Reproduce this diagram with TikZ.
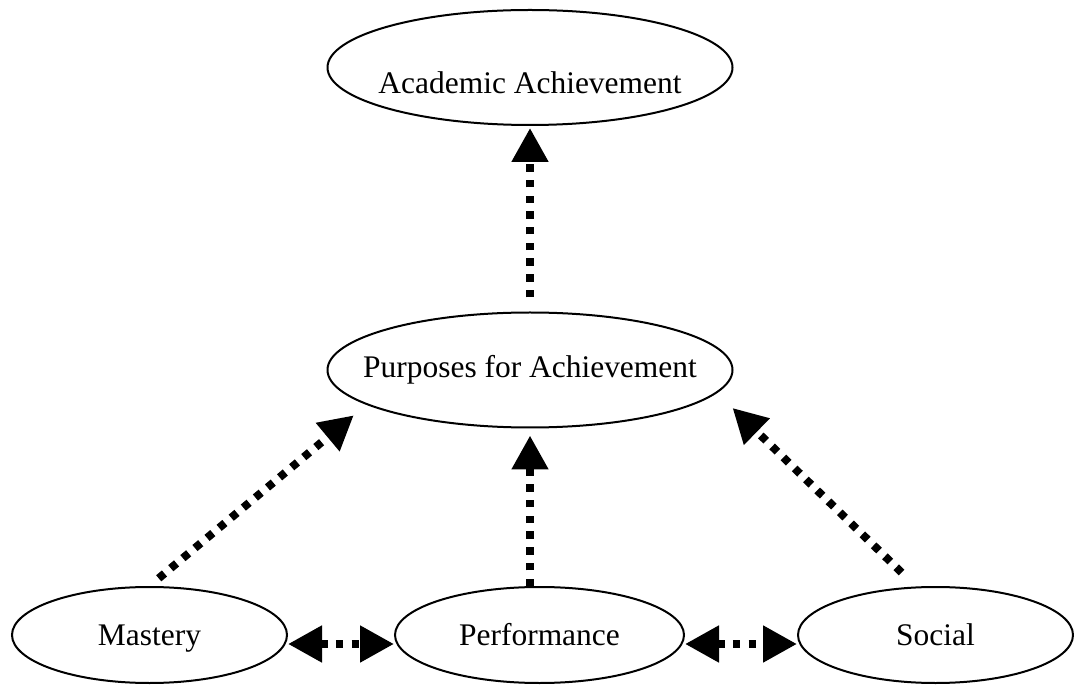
\documentclass[tikz,border=0pt]{standalone}
\usepackage{fontspec}
\setmainfont{Liberation Serif}
\usetikzlibrary{arrows.meta,shapes.geometric}
\begin{document}
\begin{tikzpicture}[
                    goal/.style={draw, ellipse, line width=0.04cm, inner sep=0pt,
                        font=\fontsize{17.9}{21}\selectfont},
                    wide/.style={goal, inner xsep=-0.6cm, minimum width=8.1cm, minimum height=2.3cm},
                    small/.style={goal, minimum height=1.92cm, text height=12.3pt, text depth=0pt},
                    link/.style={line width=0.16cm, dash pattern=on 0.15cm off 0.165cm,
                        -{Triangle[length=0.68cm, width=0.7cm]}},
                    both/.style={link, {Triangle[length=0.68cm, width=0.7cm]}-{Triangle[length=0.68cm, width=0.7cm]}}
                ]
                    \useasboundingbox (0,0) rectangle (21.48,13.68);

                    \node[wide, text height=29.9pt, text depth=0pt] (academic) at (10.6,12.33) {Academic Achievement};
                    \node[wide] (purposes) at (10.6,6.28) {Purposes for Achievement};
                    \node[small, minimum width=5.5cm] (mastery) at (2.99,0.98) {Mastery};
                    \node[small, minimum width=5.78cm] (performance) at (10.79,0.98) {Performance};
                    \node[small, minimum width=5.5cm] (social) at (18.71,0.98) {Social};

                    \draw[link, shorten <=0.28cm, shorten >=0.04cm] (purposes.north) -- (academic.south);
                    \draw[link, shorten >=0.14cm] (purposes.south |- performance.north) -- (purposes.south);
                    \draw[link, shorten <=0.24cm, shorten >=0.33cm] (mastery.north) -- (purposes.192);
                    \draw[link, shorten <=0.4cm, shorten >=0.43cm] (social.112) -- (purposes.353);

                    \draw[both] ([yshift=-0.18cm]mastery.east) -- ([yshift=-0.18cm]performance.west);
                    \draw[both] ([yshift=-0.18cm]performance.east) -- ([yshift=-0.18cm]social.west);
                \end{tikzpicture}
\end{document}
